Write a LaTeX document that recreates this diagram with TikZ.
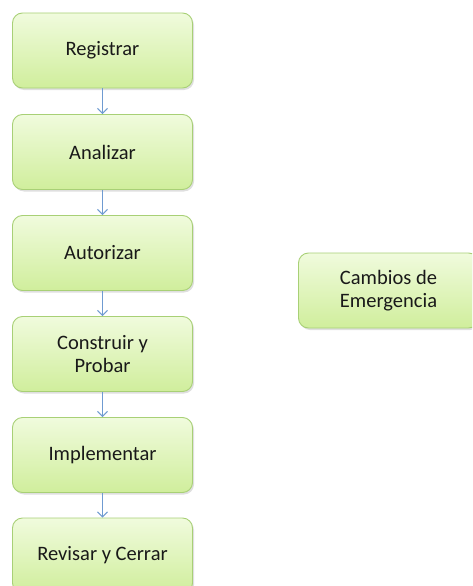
\documentclass[tikz,border=0pt]{standalone}
\usepackage{fontspec}
\setmainfont{Carlito}
\usetikzlibrary{shadows,arrows.meta}

\definecolor{boxtop}{HTML}{F0FBDD}
\definecolor{boxbottom}{HTML}{D0EE9C}
\definecolor{boxborder}{HTML}{A8D076}
\definecolor{arrowblue}{HTML}{6F9BD1}

\tikzset{
  paso/.style={draw=boxborder, line width=0.9pt, rounded corners=10pt,
    minimum width=180pt, minimum height=75pt,
    top color=boxtop, bottom color=boxbottom,
    drop shadow={shadow xshift=1.5pt, shadow yshift=-2pt, opacity=0.25},
    align=center, text=black!90, font=\fontsize{20.5}{23}\selectfont},
  flecha/.style={draw=arrowblue, line width=1pt, -{Straight Barb[length=5pt,width=10pt]}}
}

\begin{document}
\begin{tikzpicture}[x=1pt,y=-1pt]
\useasboundingbox (0,0) rectangle (472,586);
\clip (0,0) rectangle (472,586);
\path (102.5,50.5) node[paso] (reg) {Registrar}
      (102.5,152) node[paso] (ana) {Analizar}
      (102.5,253) node[paso] (aut) {Autorizar}
      (102.5,354) node[paso] (con) {Construir y\\Probar}
      (102.5,455) node[paso] (imp) {Implementar}
      (102.5,555.5) node[paso] (rev) {Revisar y Cerrar}
      (388.5,290.5) node[paso] (eme) {Cambios de\\Emergencia};
\draw[flecha] (reg) -- (ana);
\draw[flecha] (ana) -- (aut);
\draw[flecha] (aut) -- (con);
\draw[flecha] (con) -- (imp);
\draw[flecha] (imp) -- (rev);
\end{tikzpicture}
\end{document}
